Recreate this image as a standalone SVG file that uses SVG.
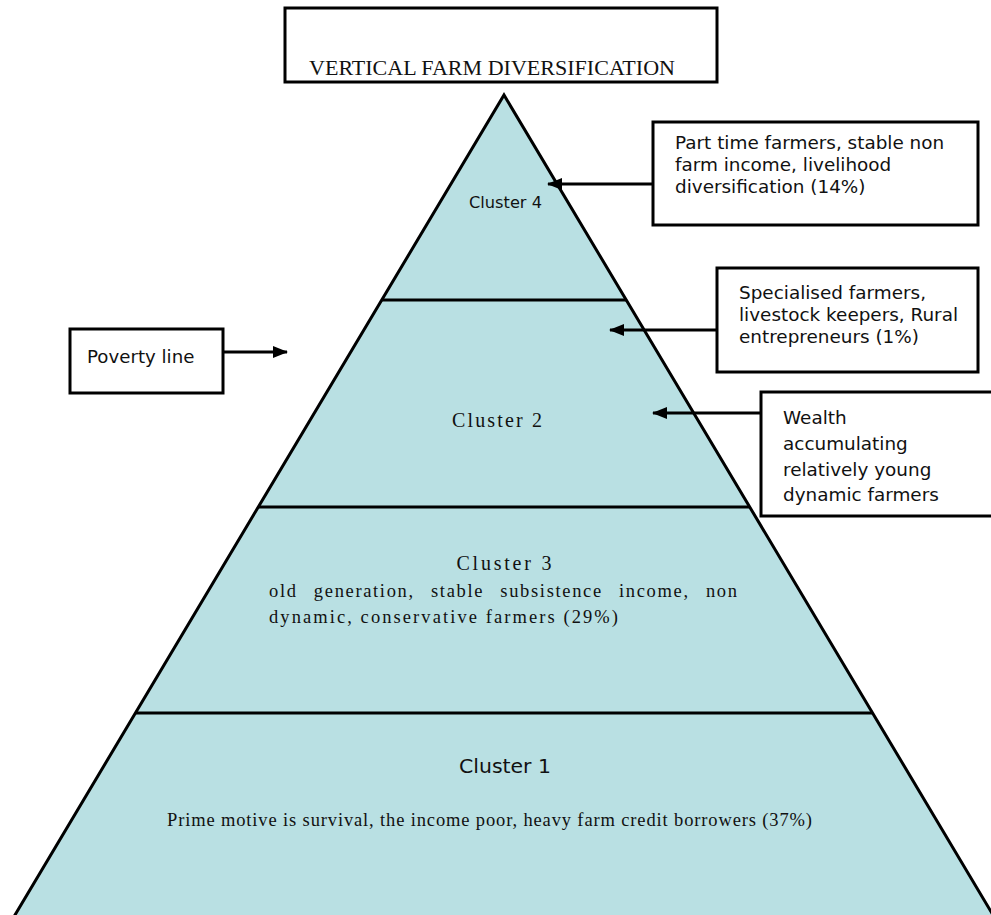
<svg xmlns="http://www.w3.org/2000/svg" width="991" height="915" viewBox="0 0 991 915">
<defs>
<style>
.box{fill:#fff;stroke:#000;stroke-width:3}
.sans{font-family:"DejaVu Sans",Verdana,sans-serif;fill:#111}
.serif{font-family:"Liberation Serif","Times New Roman",serif;fill:#111}
.edge{fill:none;stroke:#000;stroke-width:3}
.arr{fill:none;stroke:#000;stroke-width:3;marker-end:url(#ah)}
</style>
<marker id="ah" markerUnits="userSpaceOnUse" markerWidth="16" markerHeight="14" refX="14" refY="6" orient="auto">
<path d="M0,0 L15,6 L0,12 z" fill="#000"/>
</marker>
</defs>
<rect width="991" height="915" fill="#fff"/>
<g id="pyramid">
<polygon points="504,95 9,925 999,925" fill="#B9E0E3"/>
<path class="edge" d="M9,925 L504,95 L999,925" stroke-linejoin="miter"/>
<line class="edge" x1="382" y1="300" x2="626" y2="300"/>
<line class="edge" x1="258" y1="507" x2="750" y2="507"/>
<line class="edge" x1="136" y1="713" x2="872" y2="713"/>
</g>
<g id="title">
<rect class="box" x="285" y="8" width="432" height="74"/>
<text class="serif" x="309" y="75" font-size="20" textLength="366" lengthAdjust="spacingAndGlyphs">VERTICAL FARM DIVERSIFICATION</text>
</g>
<g id="cluster4">
<text class="sans" x="469" y="208" font-size="16" textLength="73" lengthAdjust="spacingAndGlyphs">Cluster 4</text>
</g>
<g id="cluster2">
<text class="serif" x="497" y="427" font-size="20" text-anchor="middle" textLength="90" lengthAdjust="spacing">Cluster 2</text>
</g>
<g id="cluster3">
<text class="serif" x="504" y="570" font-size="20" text-anchor="middle" textLength="95" lengthAdjust="spacing">Cluster 3</text>
<text class="serif" x="269" y="597" font-size="18.5" word-spacing="10" textLength="468" lengthAdjust="spacing">old generation, stable subsistence income, non</text>
<text class="serif" x="269" y="623" font-size="18.5" textLength="349" lengthAdjust="spacing">dynamic, conservative farmers (29%)</text>
</g>
<g id="cluster1">
<text class="sans" x="505" y="773" font-size="20" text-anchor="middle" textLength="92" lengthAdjust="spacingAndGlyphs">Cluster 1</text>
<text class="serif" x="167" y="826" font-size="18.5" textLength="645" lengthAdjust="spacing">Prime motive is survival, the income poor, heavy farm credit borrowers (37%)</text>
</g>
<g id="parttime">
<rect class="box" x="653" y="122" width="325" height="103"/>
<text class="sans" font-size="18.4"><tspan x="675" y="149">Part time farmers, stable non</tspan><tspan x="675" y="171">farm income, livelihood</tspan><tspan x="675" y="193">diversification (14%)</tspan></text>
</g>
<g id="specialised">
<rect class="box" x="717" y="268" width="261" height="104"/>
<text class="sans" font-size="18.4"><tspan x="739" y="299">Specialised farmers,</tspan><tspan x="739" y="321">livestock keepers, Rural</tspan><tspan x="739" y="343">entrepreneurs (1%)</tspan></text>
</g>
<g id="wealth">
<rect class="box" x="761" y="392" width="240" height="124"/>
<text class="sans" font-size="18.4"><tspan x="783" y="424">Wealth</tspan><tspan x="783" y="450">accumulating</tspan><tspan x="783" y="476">relatively young</tspan><tspan x="783" y="501">dynamic farmers</tspan></text>
</g>
<g id="poverty">
<rect class="box" x="70" y="329" width="153" height="64"/>
<text class="sans" x="87" y="363" font-size="18.2">Poverty line</text>
</g>
<g id="connectors">
<line class="arr" x1="653" y1="184" x2="548" y2="184"/>
<line class="arr" x1="717" y1="330" x2="610" y2="330"/>
<line class="arr" x1="761" y1="413" x2="653" y2="413"/>
<line class="arr" x1="223" y1="352" x2="287" y2="352"/>
</g>
</svg>
